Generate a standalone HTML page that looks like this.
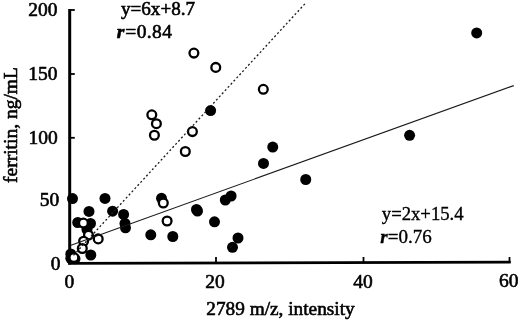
<!DOCTYPE html>
<html><head><meta charset="utf-8"><title>ferritin vs 2789 m/z</title>
<style>html,body{margin:0;padding:0;background:#fff;width:520px;height:320px;overflow:hidden}svg{display:block}</style>
</head><body>
<svg width="520" height="320" viewBox="0 0 520 320">
<g font-family="'Liberation Serif', serif" font-size="19.5" fill="#000" stroke="#000" stroke-width="0.6">
<text x="57.5" y="15.9" text-anchor="end" >200</text>
<text x="57.5" y="80.2" text-anchor="end" >150</text>
<text x="57.7" y="143.7" text-anchor="end" >100</text>
<text x="59.2" y="205.7" text-anchor="end" >50</text>
<text x="60.6" y="270" text-anchor="end" >0</text>
<text x="69.4" y="288" text-anchor="middle" >0</text>
<text x="215" y="287.8" text-anchor="middle" >20</text>
<text x="363" y="287.6" text-anchor="middle" >40</text>
<text x="508.7" y="287" text-anchor="middle" >60</text>
<text x="206.3" y="314.8" text-anchor="start" font-size="19.3">2789 m/z, intensity</text>
<text transform="translate(16.9,183) rotate(-90)" x="0" y="0">ferritin, ng/mL</text>
<text x="121" y="14.8" text-anchor="start" font-size="19.1">y=6x+8.7</text>
<text x="116.7" y="38.4" text-anchor="start" letter-spacing="0.4"><tspan font-style="italic" font-weight="bold" letter-spacing="1">r</tspan>=0.84</text>
<text x="381.8" y="220.2" text-anchor="start" font-size="18.7" stroke-width="0.35">y=2x+15.4</text>
<text x="380.3" y="242.5" text-anchor="start" font-size="19" stroke-width="0.35"><tspan font-style="italic" font-weight="bold">r</tspan>=0.76</text>
</g>
<rect x="68.2" y="9" width="3" height="255.5" fill="#000"/>
<polygon points="68.2,261.95 510.7,260.7 510.7,263.5 68.2,264.75" fill="#000"/>
<rect x="70" y="9.1" width="4.8" height="1.8" fill="#000"/>
<rect x="70" y="73.1" width="4.8" height="1.8" fill="#000"/>
<rect x="70" y="136.9" width="4.8" height="1.8" fill="#000"/>
<rect x="70" y="200.6" width="4.8" height="1.8" fill="#000"/>
<rect x="215.1" y="257" width="1.8" height="6" fill="#000"/>
<rect x="362.6" y="257" width="1.8" height="6" fill="#000"/>
<rect x="508.6" y="257" width="1.8" height="6" fill="#000"/>
<circle cx="476.7" cy="32.9" r="5.5" fill="#000"/>
<circle cx="210.6" cy="110.6" r="5.5" fill="#000"/>
<circle cx="272.75" cy="147.1" r="5.5" fill="#000"/>
<circle cx="263.5" cy="163.4" r="5.5" fill="#000"/>
<circle cx="409.6" cy="135.3" r="5.5" fill="#000"/>
<circle cx="305.75" cy="179.5" r="5.5" fill="#000"/>
<circle cx="225.3" cy="200" r="5.5" fill="#000"/>
<circle cx="231.1" cy="196" r="5.5" fill="#000"/>
<circle cx="196.5" cy="209.5" r="5.5" fill="#000"/>
<circle cx="197.5" cy="211" r="5.5" fill="#000"/>
<circle cx="214.5" cy="221.8" r="5.5" fill="#000"/>
<circle cx="238" cy="238" r="5.5" fill="#000"/>
<circle cx="232.5" cy="247.3" r="5.5" fill="#000"/>
<circle cx="150.8" cy="234.8" r="5.5" fill="#000"/>
<circle cx="172.8" cy="236.5" r="5.5" fill="#000"/>
<circle cx="161.5" cy="198.3" r="5.5" fill="#000"/>
<circle cx="105" cy="198.4" r="5.5" fill="#000"/>
<circle cx="112.6" cy="211.2" r="5.5" fill="#000"/>
<circle cx="123.6" cy="214.4" r="5.5" fill="#000"/>
<circle cx="125" cy="223.5" r="5.5" fill="#000"/>
<circle cx="125.5" cy="227.8" r="5.5" fill="#000"/>
<circle cx="72.5" cy="198.6" r="5.5" fill="#000"/>
<circle cx="89" cy="211.4" r="5.5" fill="#000"/>
<circle cx="77.75" cy="222.5" r="5.5" fill="#000"/>
<circle cx="90.5" cy="223.5" r="5.5" fill="#000"/>
<circle cx="87" cy="229.5" r="5.5" fill="#000"/>
<circle cx="90.8" cy="255" r="5.5" fill="#000"/>
<circle cx="70.8" cy="254" r="5.5" fill="#000"/>
<circle cx="70.8" cy="258.3" r="5.5" fill="#000"/>
<circle cx="75" cy="258.8" r="5.5" fill="#000"/>
<circle cx="193.9" cy="53.1" r="4.4" fill="#fff" stroke="#000" stroke-width="2.3"/>
<circle cx="215.75" cy="67.4" r="4.4" fill="#fff" stroke="#000" stroke-width="2.3"/>
<circle cx="263.3" cy="89.3" r="4.4" fill="#fff" stroke="#000" stroke-width="2.3"/>
<circle cx="151.8" cy="114.8" r="4.4" fill="#fff" stroke="#000" stroke-width="2.3"/>
<circle cx="156.4" cy="123.7" r="4.4" fill="#fff" stroke="#000" stroke-width="2.3"/>
<circle cx="154.4" cy="135.25" r="4.4" fill="#fff" stroke="#000" stroke-width="2.3"/>
<circle cx="192.4" cy="131.6" r="4.4" fill="#fff" stroke="#000" stroke-width="2.3"/>
<circle cx="185.3" cy="151.5" r="4.4" fill="#fff" stroke="#000" stroke-width="2.3"/>
<circle cx="163.3" cy="203" r="4.4" fill="#fff" stroke="#000" stroke-width="2.3"/>
<circle cx="167.1" cy="221" r="4.4" fill="#fff" stroke="#000" stroke-width="2.3"/>
<circle cx="83.4" cy="223.1" r="4.4" fill="#fff" stroke="#000" stroke-width="2.3"/>
<circle cx="88.5" cy="235.2" r="4.4" fill="#fff" stroke="#000" stroke-width="2.3"/>
<circle cx="98.2" cy="238.9" r="4.4" fill="#fff" stroke="#000" stroke-width="2.3"/>
<circle cx="83.6" cy="241.25" r="4.4" fill="#fff" stroke="#000" stroke-width="2.3"/>
<circle cx="82.3" cy="248.5" r="4.4" fill="#fff" stroke="#000" stroke-width="2.3"/>
<circle cx="73.9" cy="257.6" r="4.4" fill="#fff" stroke="#000" stroke-width="2.3"/>
<line x1="71" y1="245.2" x2="513.75" y2="85.6" stroke="#1a1a1a" stroke-width="1.15"/>
<line x1="73.5" y1="255.36" x2="305.9" y2="2.75" stroke="#1a1a1a" stroke-width="1.3" stroke-dasharray="2 2.3"/>
</svg>
</body></html>
